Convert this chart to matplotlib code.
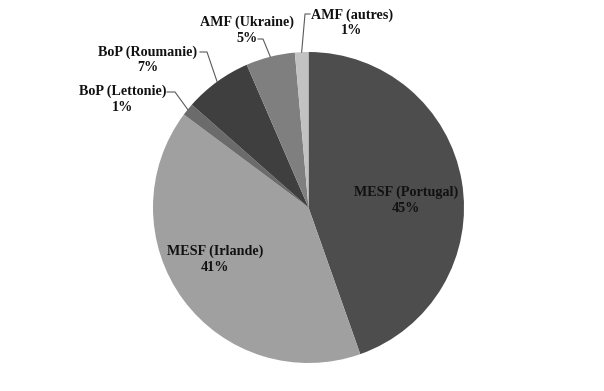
import numpy as np
import matplotlib
matplotlib.use("Agg")
from matplotlib import pyplot as plt

# data (clockwise from 12 o'clock)
labels = ["MESF (Portugal)", "MESF (Irlande)", "BoP (Lettonie)",
          "BoP (Roumanie)", "AMF (Ukraine)", "AMF (autres)"]
shares = [44.6, 40.6, 1.3, 7.0, 5.1, 1.4]
colors = ["#4d4d4d", "#a0a0a0", "#6b6b6b", "#3f3f3f", "#7f7f7f", "#c2c2c2"]

W, H = 604, 391
plt.rcParams['font.family'] = ['Liberation Serif', 'DejaVu Serif']

fig = plt.figure(figsize=(W / 100, H / 100), dpi=100)
ax = fig.add_axes([0, 0, 1, 1])

cx, cy, r = 308.5, H - 207.5, 155.5
wedges, _ = ax.pie(shares, colors=colors, startangle=90, counterclock=False,
                   center=(cx, cy), radius=r,
                   wedgeprops=dict(linewidth=0))

ax.set_xlim(0, W)
ax.set_ylim(0, H)
ax.set_aspect('equal')
ax.axis('off')

# label layout in pixel coords (x, y from top), inside labels have no leader
text_pos = [(406, 200.5), (215, 259.5), (122.5, 99.5), (148, 60), (247, 30.5), (352, 23)]
# leader: (text end x, y), knee x
leaders = [None, None, ((167, 92), 175), ((200, 52), 207),
           ((258, 39), 263), ((310, 14), 305)]

for i, (lab, val) in enumerate(zip(labels, shares)):
    tx, ty = text_pos[i]
    ax.text(tx, H - ty, "%s\n%d%%" % (lab, round(val)), ha='center', va='center',
            fontsize=10.2, fontweight='bold', color='#111111', linespacing=1.25)
    if leaders[i] is not None:
        (sx, sy), kx = leaders[i]
        w = wedges[i]
        mid = np.deg2rad((w.theta1 + w.theta2) / 2)
        ex = cx + r * np.cos(mid)
        ey = cy + r * np.sin(mid)
        ax.plot([sx, kx, ex], [H - sy, H - sy, ey], color='#5a5a5a', lw=0.8)

fig.savefig("out.png", dpi=100)
